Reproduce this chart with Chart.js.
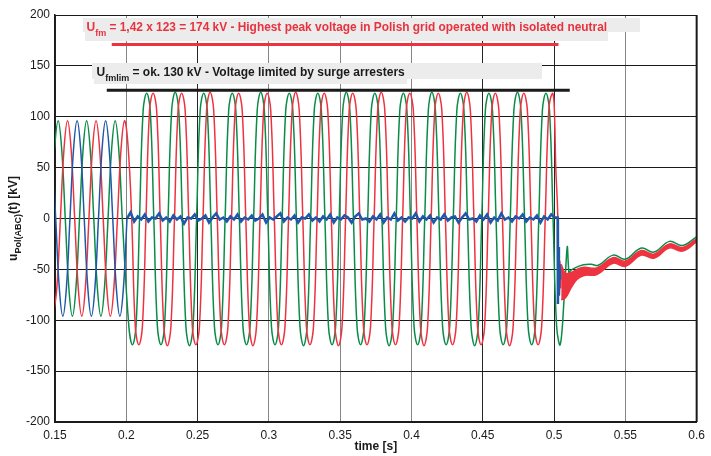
<!DOCTYPE html>
<html>
<head>
<meta charset="utf-8">
<script src="https://cdn.jsdelivr.net/npm/chart.js@4.4.1/dist/chart.umd.min.js"></script>
<style>
  html, body { margin: 0; background: #fff; }
</style>
</head>
<body>
<canvas id="chart" width="711" height="456"></canvas>
<script>
// waves read every 2.5 ms (eighth of a 50 Hz period)
const waveStep = 0.0025;

// phase red (C)
const redStart = 0.1488;
const redWave = [
  -96, -68, 0, 68, 96, 68, 0, -68, -96, -68, 0, 68, 96, 68, 0, -68, -96, -68, 0, 68, 96,
  70, 0, -106,
  -124, -106, 0, 106, 123, 106, 0, -106,
  -125, -106, 0, 106, 123, 106, 0, -106,
  -124, -106, 0, 106, 124, 106, 0, -106,
  -124, -106, 0, 106, 123, 106, 0, -106,
  -125, -106, 0, 106, 123, 106, 0, -106,
  -124, -106, 0, 106, 124, 106, 0, -106,
  -124, -106, 0, 106, 123, 106, 0, -106,
  -125, -106, 0, 106, 123, 106, 0, -106,
  -124, -106, 0, 106, 124, 106, 0, -106,
  -124, -106, 0, 106, 123, 106, 0, -106,
  -125, -106, 0, 106, 123, 106, 0, -106,
  -124, -106, 0, 106, 124, 106, 0, -106,
  -124, -106, 0, 106, 123, 106, 0, -106,
  -125, -106, 0, 106, 123, 106, 0, -106,
  -124, -106, 0, 106, 123
];
const redTailT = [0.5000, 0.5012, 0.5026, 0.5029, 0.5032, 0.5036, 0.5040, 0.5045, 0.5050];
const redTailV = [114, 50, 2, -82, -30, -74, -42, -68, -48];

// phase green (B)
const greenPreStart = 0.1472;
const greenPre = [0, 68, 96, 68, 0, -68, -96, -68, 0, 68, 96, 68, 0, -68, -96, -68, 0, 68, 96, 68, 0];
const greenPostStart = 0.2018;
const greenPost = [
  -106, -124, -106, 0, 106, 123, 106, 0,
  -106, -124, -106, 0, 106, 124, 106, 0,
  -106, -125, -106, 0, 106, 123, 106, 0,
  -106, -124, -106, 0, 106, 123, 106, 0,
  -106, -124, -106, 0, 106, 124, 106, 0,
  -106, -124, -106, 0, 106, 123, 106, 0,
  -106, -125, -106, 0, 106, 123, 106, 0,
  -106, -124, -106, 0, 106, 124, 106, 0,
  -106, -124, -106, 0, 106, 123, 106, 0,
  -106, -125, -106, 0, 106, 123, 106, 0,
  -106, -124, -106, 0, 106, 124, 106, 0,
  -106, -124, -106, 0, 106, 123, 106, 0,
  -106, -125, -106, 0, 106, 123, 106, 0,
  -106, -124, -106, 0, 106, 124, 106, 0,
  -106, -124, -106, 0, 106, 123, 106, 0,
  -106, -124
];
const greenTailT = [0.5070, 0.5092, 0.5100, 0.5106, 0.5112, 0.5140, 0.5206, 0.5260, 0.5310,
  0.5414, 0.5500, 0.5612, 0.5700, 0.5809, 0.5900, 0.6000];
const greenTailV = [-80, -28, -45, -56, -52, -49, -45.5, -45, -46,
  -36, -40, -29, -33, -22.5, -26.5, -18];

// phase blue (A, faulted)
const bluePreStart = 0.1455;
const bluePre = [96, 68, 0, -68, -96, -68, 0, 68, 96, 68, 0, -68, -96, -68, 0, 68, 96, 68, 0, -68, -96, -68, 0];
const noiseStart = 0.2005, noiseStep = 0.0025;
const blueNoise = [
  0, 6, -3, 2, -1, 4, -3, 1, 0, 5,
  -2, 1, -3, 3, -1, 2, -5, 1, 0, 4,
  -2, 0, 3, -4, 1, 5, -1, 1, -3, 2,
  -1, 4, -3, 1, -1, 3, -2, 0, 4, -4,
  1, -1, 2, 5, -3, 1, -1, 3, -4, 1,
  0, 4, -2, 1, -3, 2, -1, 4, -4, 1,
  -1, 3, 1, -4, 2, 5, -1, 0, -3, 2,
  -1, 4, -4, 1, -1, 5, -2, 1, -3, 1,
  0, 5, -3, 2, -1, 3, -4, 1, -1, 4,
  -2, 1, 2, -4, 1, 5, -1, 0, -3, 3,
  -1, 4, -4, 1, -2, 5, -1, 1, -3, 2,
  0, 4, -3, 1, -1, 3, -4, 2, -1, 4,
  1
];
const blueTailT = [0.5025, 0.5027, 0.5030, 0.5034, 0.5039, 0.5043];
const blueTailV = [1, -84, -28, -76, -45, -60];

// red band after switching off (upper / lower edge)
const bandT = [0.5050, 0.5080, 0.5120, 0.5160, 0.5210, 0.5300, 0.5414, 0.5500, 0.5612, 0.5700, 0.5809, 0.5900, 0.6000];
const bandTop = [-45, -54, -53, -50, -48, -48.5, -38.5, -42, -31.5, -35, -25, -28.5, -20];
const bandBot = [-80, -78, -68, -60, -56, -55, -44, -47, -36, -39, -29, -32, -23];

// limit lines
const ufmT = [0.1898, 0.5031], ufmV = [171, 171];
const ufmlimT = [0.1863, 0.5110], ufmlimV = [126, 126];

const RED = "#ee3340";
const GREEN = "#0a8c48";
const BLUE = "#1f58a8";
const FONT = "'Liberation Sans', Arial, sans-serif";

function onGrid(start, step, values) {
  return values.map((v, i) => ({ x: start + i * step, y: v }));
}
function pairs(times, values) {
  return times.map((t, i) => ({ x: t, y: values[i] }));
}

const redData = onGrid(redStart, waveStep, redWave).concat(pairs(redTailT, redTailV));
const greenData = onGrid(greenPreStart, waveStep, greenPre)
  .concat(onGrid(greenPostStart, waveStep, greenPost))
  .concat(pairs(greenTailT, greenTailV));
const bluePreData = onGrid(bluePreStart, waveStep, bluePre);
const blueNoiseData = onGrid(noiseStart, noiseStep, blueNoise).concat(pairs(blueTailT, blueTailV));

function textParts(ctx, x, y, parts, color) {
  ctx.fillStyle = color;
  ctx.textBaseline = "alphabetic";
  ctx.textAlign = "left";
  parts.forEach(p => {
    ctx.font = "bold " + p[1] + "px " + FONT;
    ctx.fillText(p[0], x, y + p[2]);
    x += ctx.measureText(p[0]).width;
  });
}

const notes = {
  id: "notes",
  afterDatasetsDraw(chart) {
    const ctx = chart.ctx;
    ctx.save();
    ctx.fillStyle = "#ececed";
    ctx.fillRect(83, 18, 557, 14);
    ctx.fillRect(85, 32, 523, 9);
    ctx.fillRect(92, 63, 450, 16);
    ctx.fillRect(94, 79, 313, 5);
    textParts(ctx, 86.5, 30.5, [
      ["U", 12, 0], ["fm", 9, 5],
      [" = 1,42 x 123 = 174 kV - Highest peak voltage in Polish grid operated with isolated neutral", 11.9, 0]
    ], "#e8323d");
    textParts(ctx, 96.5, 76, [
      ["U", 12, 0], ["fmlim", 9, 5],
      [" = ok. 130 kV - Voltage limited by surge arresters", 12, 0]
    ], "#1a1a1a");
    ctx.restore();
  },
  afterDraw(chart) {
    const ctx = chart.ctx;
    const a = chart.chartArea;
    ctx.save();
    ctx.strokeStyle = "#1a1a1a";
    ctx.lineWidth = 2;
    ctx.beginPath();
    ctx.moveTo(a.right, a.top);
    ctx.lineTo(a.right, a.bottom);
    ctx.stroke();
    ctx.lineWidth = 1;
    ctx.beginPath();
    ctx.moveTo(a.left, a.top + 0.5);
    ctx.lineTo(a.right, a.top + 0.5);
    ctx.stroke();

    // x title
    ctx.fillStyle = "#1a1a1a";
    ctx.font = "bold 12px " + FONT;
    ctx.textAlign = "center";
    ctx.fillText("time [s]", (a.left + a.right) / 2, 450);

    // y title with subscript
    const parts = [["u", 12, 0], ["Pol(ABC)", 9, 4], ["(t) [kV]", 12, 0]];
    let w = 0;
    parts.forEach(p => { ctx.font = "bold " + p[1] + "px " + FONT; w += ctx.measureText(p[0]).width; });
    ctx.translate(17, (a.top + a.bottom) / 2);
    ctx.rotate(-Math.PI / 2);
    textParts(ctx, -w / 2, 0, parts, "#1a1a1a");
    ctx.restore();
  }
};

function vGridColor(ctx) {
  const v = Math.round(ctx.tick.value * 100);
  if ([20, 30, 35, 40, 55].includes(v)) return "#858585";
  return "#262626";
}

const lineBase = { pointRadius: 0, fill: false };

new Chart(document.getElementById("chart"), {
  type: "line",
  data: {
    datasets: [
      { ...lineBase, data: pairs(ufmT, ufmV), borderColor: RED, borderWidth: 3, tension: 0, order: 0 },
      { ...lineBase, data: pairs(ufmlimT, ufmlimV), borderColor: "#1a1a1a", borderWidth: 3, tension: 0, order: 0 },
      { ...lineBase, data: bluePreData, borderColor: BLUE, borderWidth: 1.5, tension: 0.4, order: 1 },
      { ...lineBase, data: blueNoiseData, borderColor: BLUE, borderWidth: 2.5, tension: 0, order: 1 },
      { ...lineBase, data: pairs(bandT, bandTop), borderColor: RED, borderWidth: 1.5, tension: 0.4, order: 2 },
      { ...lineBase, data: pairs(bandT, bandBot), borderColor: RED, borderWidth: 1.5, tension: 0.4,
        fill: "-1", backgroundColor: RED, order: 2 },
      { ...lineBase, data: redData, borderColor: RED, borderWidth: 1.5, tension: 0.4, order: 3 },
      { ...lineBase, data: greenData, borderColor: GREEN, borderWidth: 1.5, tension: 0.4, order: 4 }
    ]
  },
  options: {
    responsive: false,
    animation: false,
    layout: { padding: { left: 0, top: 15, right: 10, bottom: 0 } },
    plugins: { legend: { display: false }, tooltip: { enabled: false } },
    scales: {
      x: {
        type: "linear",
        min: 0.15,
        max: 0.6,
        afterFit: s => { s.height = 34; },
        ticks: {
          stepSize: 0.05,
          padding: 6,
          color: "#1a1a1a",
          font: { family: FONT, size: 12 },
          maxRotation: 0,
          callback: v => String(Number(v.toFixed(2)))
        },
        grid: { color: vGridColor, lineWidth: 1, drawTicks: false },
        border: { color: "#1a1a1a", width: 2 }
      },
      y: {
        min: -200,
        max: 200,
        afterFit: s => { s.width = 55; },
        ticks: {
          stepSize: 50,
          padding: 5,
          color: "#1a1a1a",
          font: { family: FONT, size: 12 }
        },
        grid: { color: "#1a1a1a", lineWidth: 1, drawTicks: false },
        border: { color: "#1a1a1a", width: 1.5 }
      }
    }
  },
  plugins: [notes]
});
</script>
</body>
</html>
